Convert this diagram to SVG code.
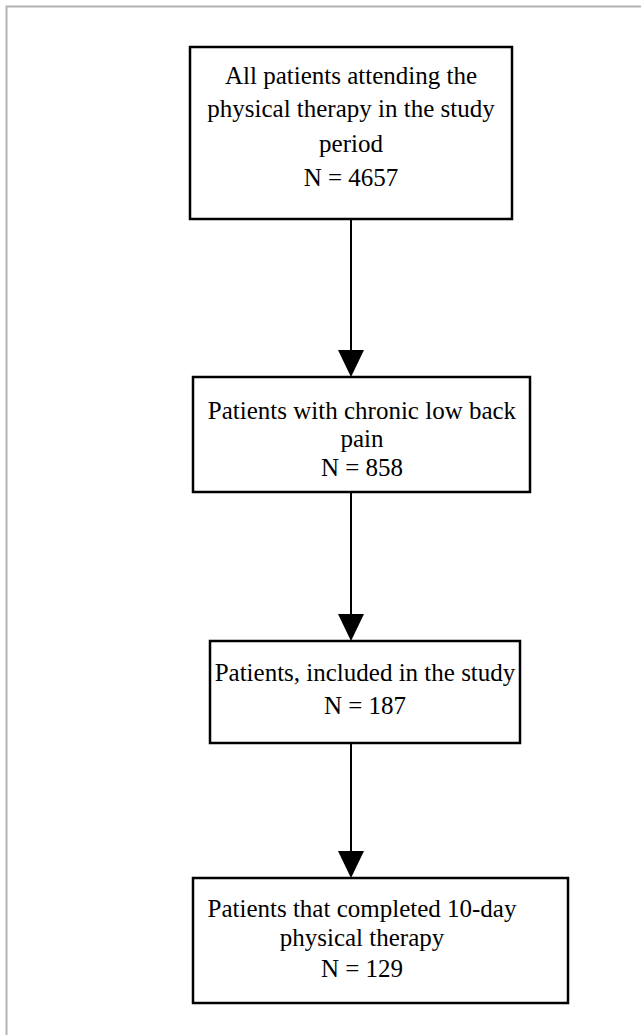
<svg xmlns="http://www.w3.org/2000/svg" width="641" height="1035" viewBox="0 0 641 1035">
<style>
.box{fill:#fff;stroke:#000;stroke-width:2.5}
.t{font-family:"Liberation Serif","Times New Roman",serif;font-size:25px;fill:#000;text-anchor:middle}
.c{stroke:#000;stroke-width:2;fill:none}
</style>
<rect width="641" height="1035" fill="#fff"/>
<path d="M6.5,1035 V6.5 H641" fill="none" stroke="#b3b3b3" stroke-width="2"/>
<g id="connectors">
<line class="c" x1="351" y1="219" x2="351" y2="351"/>
<path d="M338,350 L364,350 L351,377 Z"/>
<line class="c" x1="351" y1="492" x2="351" y2="615"/>
<path d="M338,614 L364,614 L351,641 Z"/>
<line class="c" x1="351" y1="743" x2="351" y2="852"/>
<path d="M338,851 L364,851 L351,878 Z"/>
</g>
<g id="n1">
<rect class="box" x="190" y="47" width="322" height="172"/>
<text class="t" x="351" y="84">All patients attending the</text>
<text class="t" x="351" y="117">physical therapy in the study</text>
<text class="t" x="351" y="152">period</text>
<text class="t" x="351" y="186">N = 4657</text>
</g>
<g id="n2">
<rect class="box" x="193" y="377" width="337" height="115"/>
<text class="t" x="362" y="419">Patients with chronic low back</text>
<text class="t" x="362" y="447">pain</text>
<text class="t" x="362" y="476">N = 858</text>
</g>
<g id="n3">
<rect class="box" x="210" y="641" width="310" height="102"/>
<text class="t" x="365" y="681" font-size="24.5">Patients, included in the study</text>
<text class="t" x="365" y="714">N = 187</text>
</g>
<g id="n4">
<rect class="box" x="193" y="878" width="375" height="125"/>
<text class="t" x="362" y="917">Patients that completed 10-day</text>
<text class="t" x="362" y="946">physical therapy</text>
<text class="t" x="362" y="977">N = 129</text>
</g>
</svg>
